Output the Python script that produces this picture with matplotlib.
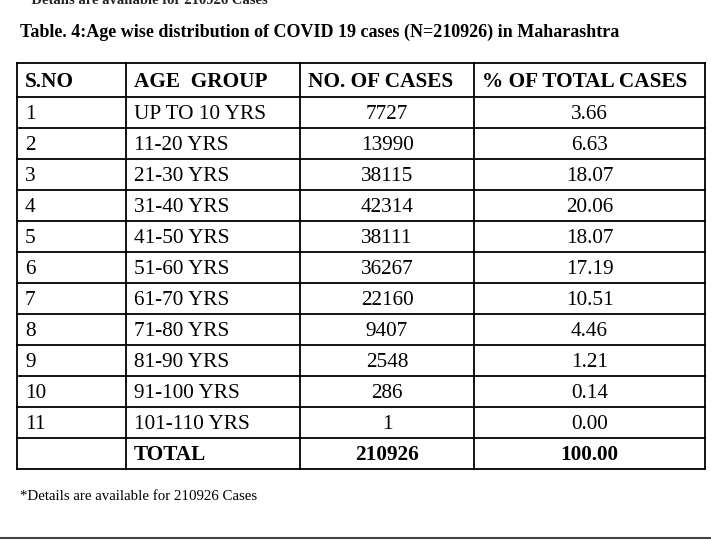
# Age wise distribution of COVID 19 cases in Maharashtra, drawn as a table

import matplotlib
matplotlib.use('Agg')
from matplotlib import pyplot as plt

plt.rcParams['font.family'] = ['Liberation Serif', 'DejaVu Serif']

headers = ['S.NO', 'AGE  GROUP', 'NO. OF CASES', '% OF TOTAL CASES']
sno = [1, 2, 3, 4, 5, 6, 7, 8, 9, 10, 11]
age_groups = ['UP TO 10 YRS', '11-20 YRS', '21-30 YRS', '31-40 YRS', '41-50 YRS',
              '51-60 YRS', '61-70 YRS', '71-80 YRS', '81-90 YRS', '91-100 YRS',
              '101-110 YRS']
cases = [7727, 13990, 38115, 42314, 38111, 36267, 22160, 9407, 2548, 286, 1]
pct = [3.66, 6.63, 18.07, 20.06, 18.07, 17.19, 10.51, 4.46, 1.21, 0.14, 0.00]
total_cases = 210926
total_pct = 100.00

title = 'Table. 4:Age wise distribution of COVID 19 cases (N=210926) in Maharashtra'
note = '*Details are available for 210926 Cases'

# layout in pixels
col_x = [17, 126, 300, 474, 705]
top = 63
head_h = 34
row_h = 31
pad = 8
fs = 15.3

fig = plt.figure(figsize=(7.11, 5.49), dpi=100)
ax = fig.add_axes([0, 0, 1, 1])
ax.set_xlim(0, 711)
ax.set_ylim(549, 0)
ax.axis('off')

# cut-off line at the very top of the page
ax.text(24, 4, note, fontsize=10.5, fontweight='bold', va='baseline', ha='left', color='#222222')

ax.text(20, 32, title, fontsize=13, fontweight='bold', va='center', ha='left')

n_rows = len(sno) + 1
bottom = top + head_h + n_rows * row_h
lw = 1.3

# grid lines
for x in col_x:
    ax.plot([x, x], [top, bottom], color='black', lw=lw, solid_capstyle='projecting')
ax.plot([col_x[0], col_x[-1]], [top, top], color='black', lw=lw)
for i in range(n_rows + 1):
    y = top + head_h + i * row_h
    ax.plot([col_x[0], col_x[-1]], [y, y], color='black', lw=lw)

# header
yh = top + head_h / 2 + 2
for i, h in enumerate(headers):
    ax.text(col_x[i] + pad, yh, h, fontsize=fs, fontweight='bold', va='center', ha='left')

mid_cases = (col_x[2] + col_x[3]) / 2
mid_pct = (col_x[3] + col_x[4]) / 2

for i in range(len(sno)):
    y = top + head_h + i * row_h + row_h / 2 + 2
    ax.text(col_x[0] + pad, y, str(sno[i]), fontsize=fs, va='center', ha='left')
    ax.text(col_x[1] + pad, y, age_groups[i], fontsize=fs, va='center', ha='left')
    ax.text(mid_cases, y, str(cases[i]), fontsize=fs, va='center', ha='center')
    ax.text(mid_pct, y, f'{pct[i]:.2f}', fontsize=fs, va='center', ha='center')

y = top + head_h + len(sno) * row_h + row_h / 2 + 2
ax.text(col_x[1] + pad, y, 'TOTAL', fontsize=fs, fontweight='bold', va='center', ha='left')
ax.text(mid_cases, y, str(total_cases), fontsize=fs, fontweight='bold', va='center', ha='center')
ax.text(mid_pct, y, f'{total_pct:.2f}', fontsize=fs, fontweight='bold', va='center', ha='center')

ax.text(20, 496, note, fontsize=10.7, va='center', ha='left')

ax.plot([0, 711], [538, 538], color='#444444', lw=1.5)

fig.savefig('out.png', dpi=100)
